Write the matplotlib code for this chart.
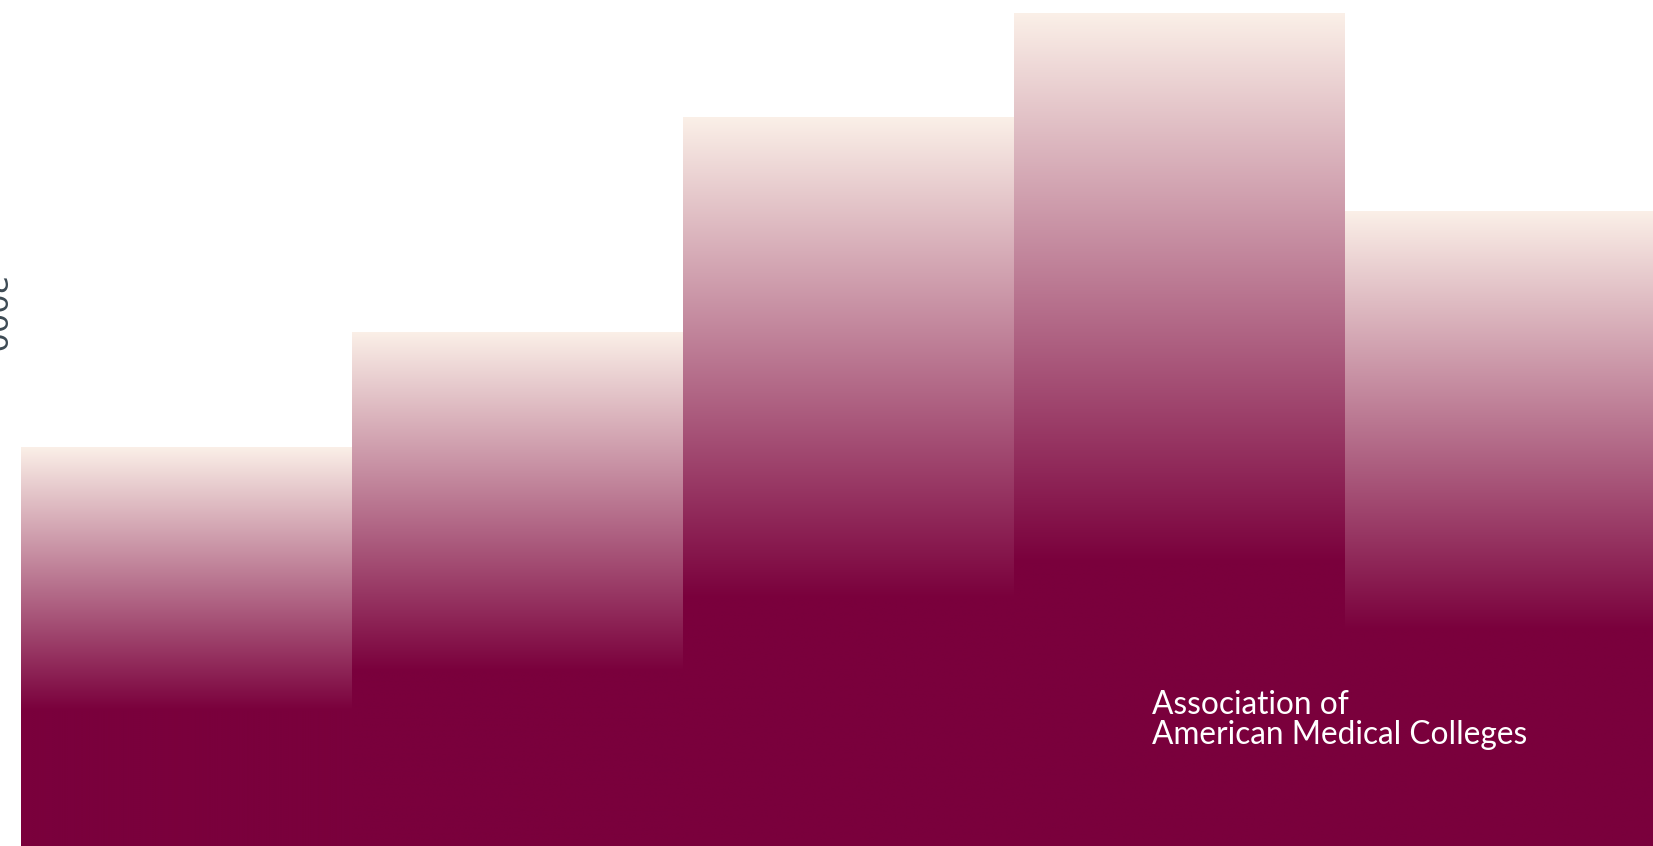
import numpy as np
import matplotlib
matplotlib.use("Agg")
import matplotlib.pyplot as plt
from matplotlib.colors import to_rgb

# Data
categories = ["A", "B", "C", "D", "E"]
values = [47.2, 60.8, 86.2, 98.5, 75.1]
side_label = "2000"
brand_text = "Association of\nAmerican Medical Colleges"

top_color = np.array(to_rgb("#FBF0E8"))
base_color = np.array(to_rgb("#7A003C"))
grad_frac = 0.66

fig = plt.figure(figsize=(16.53, 8.46), dpi=100)
ax = fig.add_axes([0, 0, 1, 1])
x = np.arange(len(categories))
unit_px = 331.0
left = -0.5 - 21.0 / unit_px
ax.set_xlim(left, left + 1653.0 / unit_px)
ax.set_ylim(0, 100)
ax.axis("off")

bars = ax.bar(x, values, width=1.0, color="#7A003C", linewidth=0, zorder=1)

n = 600
for xi, v, patch in zip(x, values, bars):
    ys = np.linspace(v, 0, n)  # top row first
    t = np.clip((v - ys) / (grad_frac * v), 0, 1)
    img = top_color[None, :] * (1 - t[:, None]) + base_color[None, :] * t[:, None]
    img = img[:, None, :]
    im = ax.imshow(img, extent=[xi - 0.5, xi + 0.5, 0, v], aspect="auto",
                   interpolation="bilinear", zorder=2)
    im.set_clip_path(patch)

ax.text(3.5 - 193.0 / unit_px, 100 * (1 - 744.0 / 846), brand_text,
        color="white", fontsize=22.8, family="Lato", weight="normal",
        ha="left", va="baseline", linespacing=1.0, zorder=5)

fig.text(-23.0 / 1653, 1 - 277.0 / 846, side_label, rotation=270,
         color="#3D4A54", fontsize=22, family="DejaVu Sans",
         ha="left", va="top")

fig.savefig("out.png", dpi=100)
